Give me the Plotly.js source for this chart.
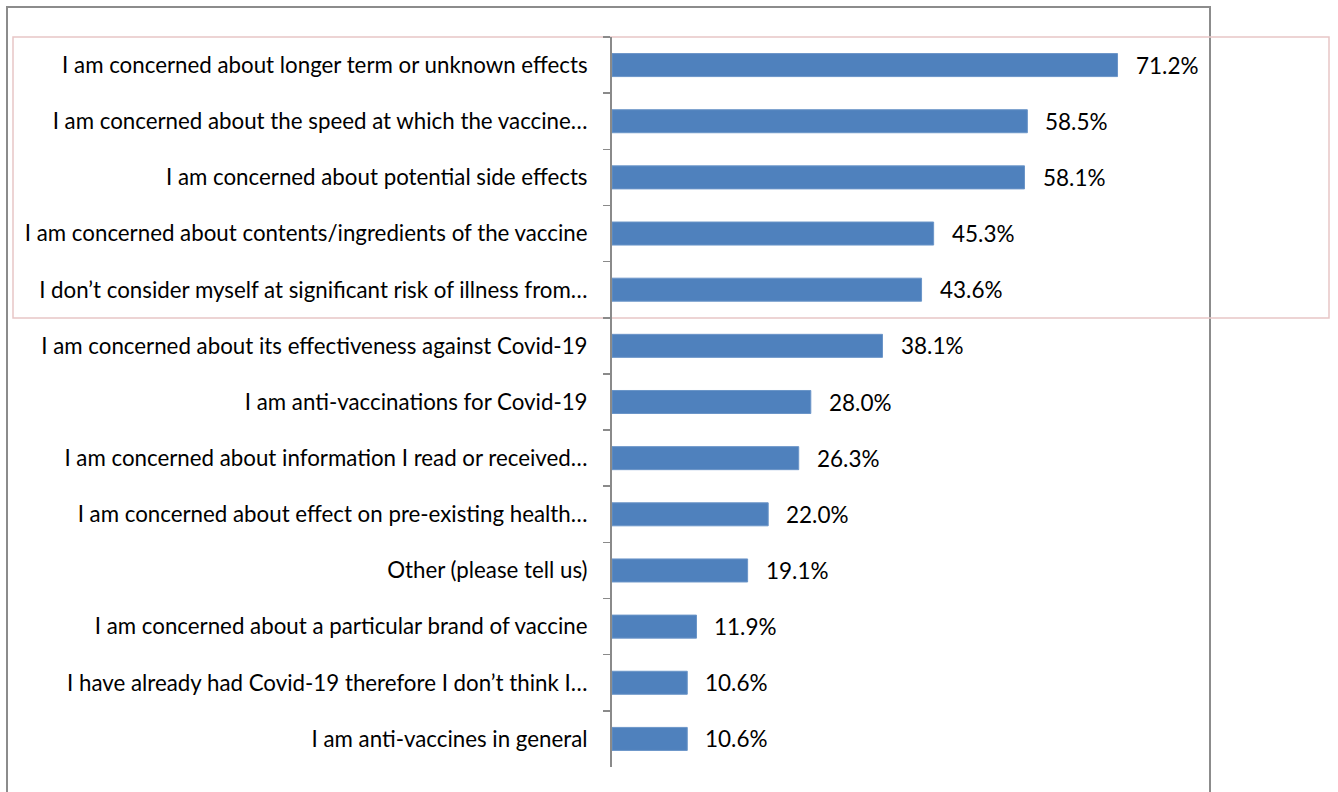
<!DOCTYPE html>
<html><head><meta charset="utf-8">
<script src="https://cdn.plot.ly/plotly-3.0.1.min.js"></script>
<style>html,body{margin:0;padding:0;background:#fff}#chart{width:1338px;height:792px}</style>
</head><body><div id="chart"></div>
<script>
const categories = [
  "I am concerned about longer term or unknown effects",
  "I am concerned about the speed at which the vaccine…",
  "I am concerned about potential side effects",
  "I am concerned about contents/ingredients of the vaccine",
  "I don’t consider myself at significant risk of illness from…",
  "I am concerned about its effectiveness against Covid-19",
  "I am anti-vaccinations for Covid-19",
  "I am concerned about information I read or received…",
  "I am concerned about effect on pre-existing health…",
  "Other (please tell us)",
  "I am concerned about a particular brand of vaccine",
  "I have already had Covid-19 therefore I don’t think I…",
  "I am anti-vaccines in general"
];
const values = [71.2, 58.5, 58.1, 45.3, 43.6, 38.1, 28.0, 26.3, 22.0, 19.1, 11.9, 10.6, 10.6];
const valueLabels = values.map(v => v.toFixed(1) + "%");

const W = 1338, H = 792;
const px = x => x / W, py = y => 1 - y / H;
const FONT = "Lato, 'Open Sans', sans-serif";

const annotations = categories.map((c, i) => ({
  x: values[i], y: c, xref: "x", yref: "y", text: valueLabels[i],
  showarrow: false, xanchor: "left", xshift: 16,
  font: {family: FONT, size: 22.5, color: "#000"}
}));

Plotly.newPlot("chart", [{
  type: "bar", orientation: "h", x: values, y: categories,
  marker: {color: "#4F81BD", line: {color: "#6b95c8", width: 1}},
  hoverinfo: "none"
}], {
  width: W, height: H, margin: {l: 0, r: 0, t: 0, b: 0},
  paper_bgcolor: "#fff", plot_bgcolor: "rgba(0,0,0,0)",
  showlegend: false, bargap: 0.59,
  xaxis: {domain: [px(612), px(1180)], range: [0, 80], visible: false, fixedrange: true},
  yaxis: {domain: [py(767), py(37)], type: "category", autorange: "reversed",
    showline: true, linecolor: "#8a8a8a", linewidth: 2,
    ticks: "outside", tickson: "boundaries", ticklen: 7, tickcolor: "#8a8a8a", tickwidth: 1.5,
    ticklabelstandoff: 18, showgrid: false, zeroline: false, automargin: false,
    tickfont: {family: FONT, size: 22.3, color: "#000"}},
  annotations: annotations,
  shapes: [
    {type: "rect", xref: "paper", yref: "paper", x0: px(7), x1: px(1210), y0: py(7), y1: py(800),
     line: {color: "#8c8c8c", width: 2}, layer: "below"},
    {type: "rect", xref: "paper", yref: "paper", x0: px(13), x1: px(1329), y0: py(37), y1: py(318),
     line: {color: "#e8c6c6", width: 1.5}, layer: "below"}
  ]
}, {displayModeBar: false, staticPlot: true});
</script></body></html>
